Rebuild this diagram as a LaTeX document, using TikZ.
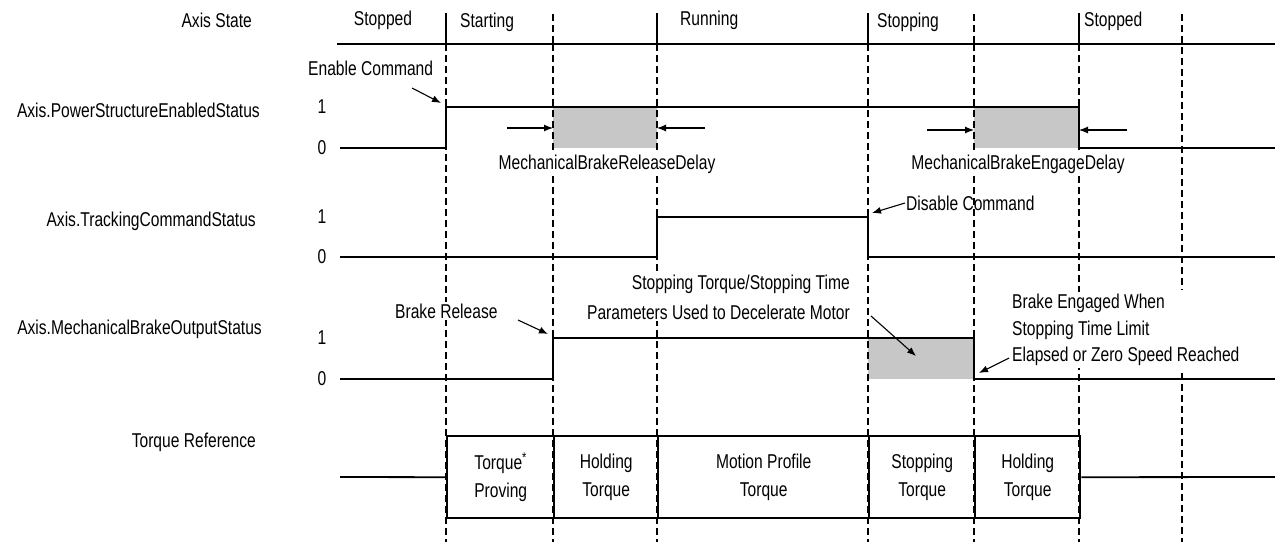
\documentclass[tikz,border=0pt]{standalone}
\usepackage{fontspec}
\setmainfont[FakeStretch=0.78]{Liberation Sans}
\usetikzlibrary{arrows.meta}
\begin{document}
\begin{tikzpicture}[x=1pt,y=-1pt,
  sig/.style={line width=1.8pt},
  gridline/.style={line width=1.4pt, dash pattern=on 7pt off 4pt},
  tickline/.style={line width=2pt},
  lbl/.style={font=\fontsize{20}{28}\selectfont, inner sep=1pt},
  note/.style={lbl, fill=white, inner sep=2pt},
  arr/.style={line width=1.1pt, -{Latex[length=9pt,width=7pt]}},
  shade/.style={fill=black!22},
  tbox/.style={draw, line width=2.4pt, minimum height=82pt, align=center, lbl, anchor=north west}
]
\useasboundingbox (0,0) rectangle (1275,542);
% shaded delays
\fill[shade] (553,107) rectangle (657,148);
\fill[shade] (974,107) rectangle (1079,148);
\fill[shade] (868,338) rectangle (974,379);
% dashed time lines
\foreach \x in {446,553,657,868,974,1079}
  \draw[gridline] (\x,44) -- (\x,542);
\foreach \x in {553,974}
  \draw[gridline] (\x,14) -- (\x,44);
\draw[gridline] (1182,14) -- (1182,290);
% axis state row
\draw[sig] (337,44) -- (1275,44);
\foreach \x in {446,657,868,1079}
  \draw[tickline] (\x,13) -- (\x,44);
% row labels
\node[lbl, anchor=east] (lstate) at (253,20) {Axis State};
\node[lbl, anchor=east] (lpower) at (261,110) {Axis.PowerStructureEnabledStatus};
\node[lbl, anchor=east] (ltrack) at (257,221) {Axis.TrackingCommandStatus};
\node[lbl, anchor=east] (lbrake) at (263,329) {Axis.MechanicalBrakeOutputStatus};
\node[lbl, anchor=east] (ltorque) at (257,442) {Torque Reference};
% state names
\node[lbl, fill=white] (s1) at (383,20) {Stopped};
\node[lbl, fill=white, anchor=west] (s2) at (459,22) {Starting};
\node[lbl, fill=white, anchor=west] (s3) at (679,20) {Running};
\node[lbl, fill=white, anchor=west] (s4) at (876,22) {Stopping};
\node[lbl, fill=white, anchor=west] (s5) at (1083,21) {Stopped};
% levels
\foreach \y/\t in {107/1,148/0,217/1,257/0,338/1,379/0}
  \node[lbl] at (322,\y) {\t};
% annotations (masking dashes)
\node[note] (relD) at (607,164) {MechanicalBrakeReleaseDelay};
\node[note] (engD) at (1018,164) {MechanicalBrakeEngageDelay};
\node[note, anchor=west] (enable) at (306,68) {Enable Command};
\node[lbl, anchor=west] (disable) at (905,203) {Disable Command};
\node[note, anchor=west] (brel) at (393,311) {Brake Release};
\node[note, anchor=east, align=right, font=\fontsize{20}{30}\selectfont] (stopp) at (852,297) {Stopping Torque/Stopping Time\\Parameters Used to Decelerate Motor};
\node[note, anchor=west, align=left, font=\fontsize{20}{26.5}\selectfont] (beng) at (1010,330) {Brake Engaged When\\Stopping Time Limit\\Elapsed or Zero Speed Reached};
% lower part of the last time line
\draw[gridline] (1182,373) -- (1182,542);
% signals
\draw[sig] (340,148) -- (446,148) -- (446,107) -- (1079,107) -- (1079,148) -- (1275,148);
\draw[sig] (340,257) -- (657,257) -- (657,217) -- (868,217) -- (868,257) -- (1275,257);
\draw[sig] (340,379) -- (553,379) -- (553,338) -- (974,338) -- (974,379) -- (1275,379);
% delay arrows
\coordinate (ra1) at (507,128); \coordinate (ra2) at (553,128);
\coordinate (rb1) at (705,128); \coordinate (rb2) at (657,128);
\coordinate (ea1) at (927,130); \coordinate (ea2) at (974,130);
\coordinate (eb1) at (1127,130); \coordinate (eb2) at (1079,130);
\draw[arr] (ra1) -- (ra2);
\draw[arr] (rb1) -- (rb2);
\draw[arr] (ea1) -- (ea2);
\draw[arr] (eb1) -- (eb2);
% callout arrows
\coordinate (enT) at (441,103);
\draw[arr] (412,88) -- (enT);
\coordinate (diT) at (872,213);
\draw[arr] (disable.west) -- (diT);
\coordinate (brT) at (548,334);
\draw[arr] (518,320) -- (brT);
\coordinate (stT) at (916,356);
\draw[arr] (871,316) -- (stT);
\coordinate (beT) at (979,373);
\draw[arr] (1009,358) -- (beT);
% torque reference boxes
\node[tbox, minimum width=107pt] (tq1) at (446,435) {Torque\textsuperscript{*}\\Proving};
\node[tbox, minimum width=104pt] (tq2) at (553,435) {Holding\\Torque};
\node[tbox, minimum width=211pt] (tq3) at (657,435) {Motion Profile\\Torque};
\node[tbox, minimum width=106pt] (tq4) at (868,435) {Stopping\\Torque};
\node[tbox, minimum width=105pt] (tq5) at (974,435) {Holding\\Torque};
\draw[sig] (340,477) -- (tq1.west);
\draw[sig] (tq5.east) -- (1275,477);
\end{tikzpicture}
\end{document}
